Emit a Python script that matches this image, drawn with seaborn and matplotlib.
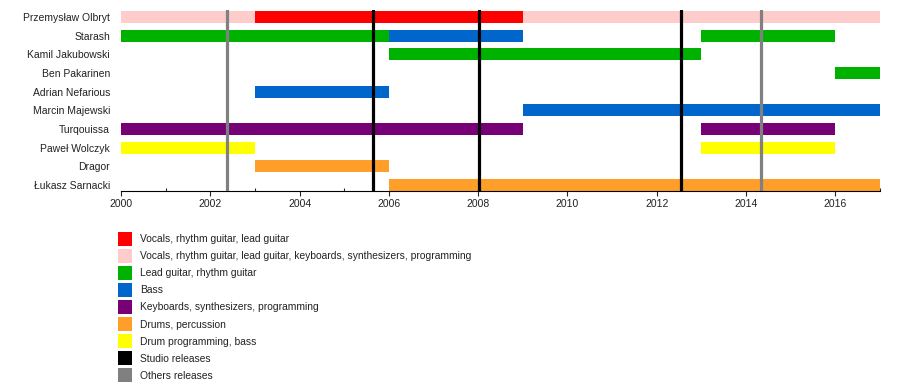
import matplotlib
matplotlib.use("Agg")
import matplotlib.pyplot as plt
from matplotlib.lines import Line2D
from matplotlib.ticker import MultipleLocator
import pandas as pd
import seaborn as sns

members = ["Przemysław Olbryt", "Starash", "Kamil Jakubowski", "Ben Pakarinen",
           "Adrian Nefarious", "Marcin Majewski", "Turqouissa", "Paweł Wolczyk",
           "Dragor", "Łukasz Sarnacki"]

roles = ["Vocals, rhythm guitar, lead guitar",
         "Vocals, rhythm guitar, lead guitar, keyboards, synthesizers, programming",
         "Lead guitar, rhythm guitar",
         "Bass",
         "Keyboards, synthesizers, programming",
         "Drums, percussion",
         "Drum programming, bass"]
role_colors = ["#ff0000", "#ffcccc", "#00b200", "#0066cc", "#770077", "#ff9f29", "#ffff00"]

# one entry per stint
stint_member = ["Przemysław Olbryt", "Przemysław Olbryt", "Przemysław Olbryt",
                "Starash", "Starash", "Starash",
                "Kamil Jakubowski", "Ben Pakarinen", "Adrian Nefarious", "Marcin Majewski",
                "Turqouissa", "Turqouissa", "Paweł Wolczyk", "Paweł Wolczyk",
                "Dragor", "Łukasz Sarnacki"]
stint_start = [2000, 2003, 2009, 2000, 2006, 2013, 2006, 2016, 2003, 2009,
               2000, 2013, 2000, 2013, 2003, 2006]
stint_end = [2003, 2009, 2017, 2006, 2009, 2016, 2013, 2017, 2006, 2017,
             2009, 2016, 2003, 2016, 2006, 2017]
stint_role = [1, 0, 1, 2, 3, 2, 2, 2, 3, 3, 4, 4, 6, 6, 5, 5]

studio_releases = [2005.64, 2008.02, 2012.54]
other_releases = [2002.37, 2014.33]

df = pd.DataFrame({"member": stint_member, "start": stint_start,
                   "end": stint_end, "role": stint_role})
df["row"] = df["member"].map({m: i for i, m in enumerate(members)})

sns.set_style("white")
plt.rcParams["font.family"] = ["Liberation Sans", "DejaVu Sans"]

fig = plt.figure(figsize=(9, 3.9), dpi=100)
ax = fig.add_axes([121 / 900, 199 / 390, 759 / 900, 181 / 390])

for _, r in df.iterrows():
    ax.barh(r["row"], r["end"] - r["start"], left=r["start"], height=0.64,
            color=role_colors[r["role"]], linewidth=0)

for x in other_releases:
    ax.axvline(x, color="#808080", lw=2.3, zorder=3)
for x in studio_releases:
    ax.axvline(x, color="black", lw=2.3, zorder=3)

ax.set_xlim(2000, 2017)
ax.set_ylim(9.32, -0.38)
ax.set_yticks(range(len(members)))
ax.set_yticklabels(members, fontsize=7.5, color="#222222")
ax.xaxis.set_major_locator(MultipleLocator(2))
ax.xaxis.set_minor_locator(MultipleLocator(1))
ax.tick_params(axis="x", which="major", bottom=True, length=3.5, width=0.8,
               labelsize=7.5, labelcolor="#222222", direction="out", pad=2)
ax.tick_params(axis="x", which="minor", bottom=True, length=2.5, width=0.8, direction="in")
ax.tick_params(axis="y", length=0, pad=8)
sns.despine(ax=ax, left=True)
ax.spines["bottom"].set_color("black")
ax.spines["bottom"].set_linewidth(0.8)

handles = [Line2D([], [], ls="none", marker="s", markersize=9.5, markeredgewidth=0,
                  color=c) for c in role_colors]
handles += [Line2D([], [], ls="none", marker="s", markersize=9.5, markeredgewidth=0, color=c)
            for c in ["black", "#808080"]]
labels = roles + ["Studio releases", "Others releases"]
fig.legend(handles, labels, loc="upper left", bbox_to_anchor=(116 / 900, 1 - 230 / 390),
           frameon=False, fontsize=7.4, labelspacing=0.69, handlelength=1.0,
           handletextpad=0.95, borderaxespad=0, labelcolor="#222222")

fig.savefig("out.png", dpi=100)
